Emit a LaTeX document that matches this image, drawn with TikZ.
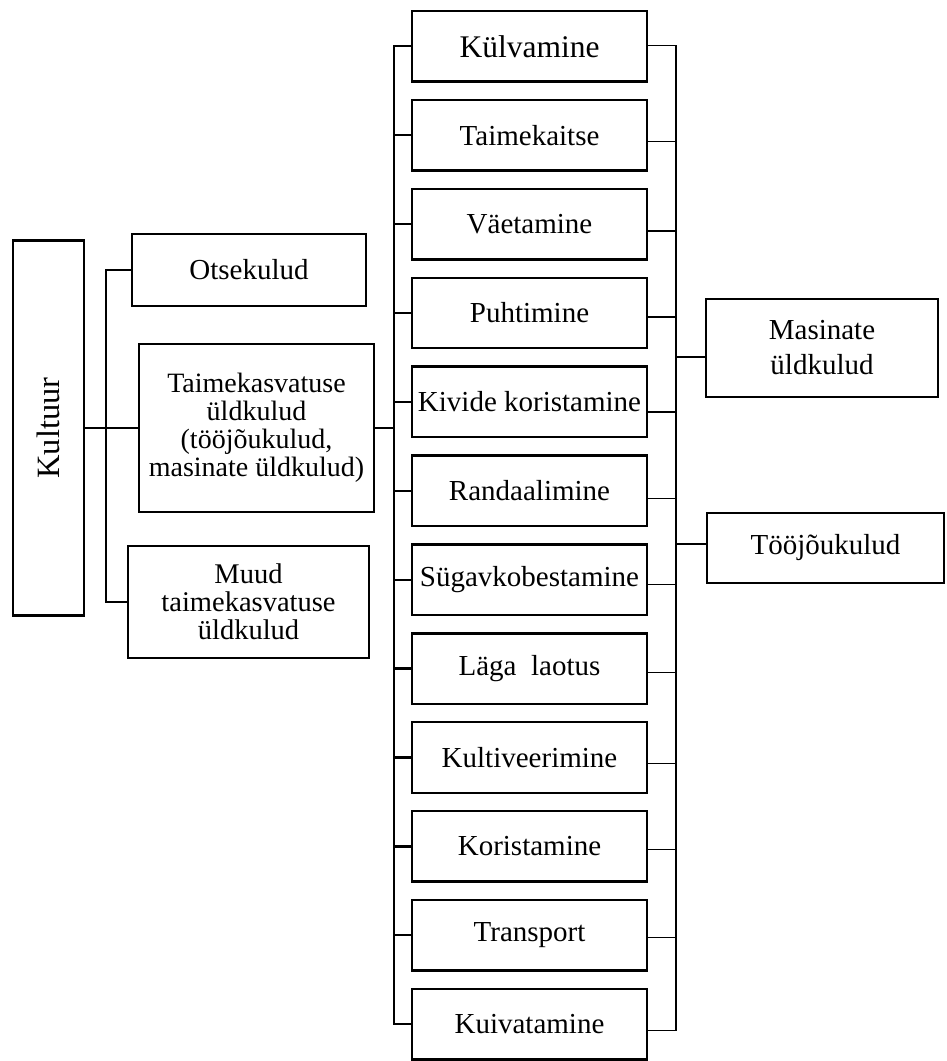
\documentclass[tikz,border=0pt]{standalone}
\usepackage{fontspec}
\setmainfont{Liberation Serif}
\begin{document}
\begin{tikzpicture}[x=1pt,y=-1pt,
  box/.style={draw,line width=2.4pt,inner sep=0pt,align=center,font=\fontsize{29}{28}\selectfont},
  midbox/.style={box,minimum width=235pt,minimum height=70.5pt},
  thick conn/.style={line width=2.3pt},
  thin conn/.style={line width=1.3pt}]
\useasboundingbox (0,0) rectangle (946,1061);
% left part
\node[box,minimum width=71pt,minimum height=375pt,font=\fontsize{32.5}{32}\selectfont] (kult) at (48.5,428) {\rotatebox{90}{Kultuur}};
\node[box,minimum width=234pt,minimum height=72pt] (ots) at (249,270) {Otsekulud};
\node[box,minimum width=235pt,minimum height=168pt,font=\fontsize{28}{28}\selectfont] (taim) at (256.5,428) {Taimekasvatuse\\üldkulud\\(tööjõukulud,\\masinate üldkulud)};
\node[box,minimum width=241pt,minimum height=112pt,font=\fontsize{28.5}{28}\selectfont] (muud) at (248.5,602) {Muud\\taimekasvatuse\\üldkulud};
% middle column
\foreach \i/\t in {1/{\fontsize{31.5}{30}\selectfont Külvamine},2/Taimekaitse,3/Väetamine,4/Puhtimine,5/Kivide koristamine,6/Randaalimine,7/Sügavkobestamine,8/Läga\ \ laotus,9/Kultiveerimine,10/Koristamine,11/Transport,12/Kuivatamine}
  \node[midbox] (m\i) at (529.5,{46.3+88.9*(\i-1)}) {\t};
% right column
\node[box,minimum width=232pt,minimum height=98pt,font=\fontsize{29}{35}\selectfont] (masin) at (822,348) {Masinate\\üldkulud};
\node[box,minimum width=237pt,minimum height=70pt] (tooj) at (825.5,548) {Tööjõukulud};
% bus coordinates
\coordinate (mbus) at (394,0);
\coordinate (rbus) at (676,0);
% left connectors
\draw[thick conn] (ots.west) -- ++(-25,0) |- (muud.west);
\draw[thick conn] (kult.east) -- (taim.west);
\draw[thick conn] (taim.east) -- (taim.east -| mbus);
% middle-left bus
\draw[thick conn] (m1.west) -- (m1.west -| mbus) -- (m12.west -| mbus) -- (m12.west);
\foreach \i in {2,...,11}
  \draw[thick conn] (m\i.west) -- (m\i.west -| mbus);
% right bus
\draw[thin conn] ([yshift=1pt]m1.east) -- ([yshift=1pt]m1.east -| rbus) -- ([yshift=-6pt]m12.east -| rbus) -- ([yshift=-6pt]m12.east);
\foreach \i/\d in {2/6,3/7,4/4,5/10,6/8,7/5,8/4,9/6,10/3,11/2}
  \draw[thin conn] ([yshift=-\d pt]m\i.east) -- ([yshift=-\d pt]m\i.east -| rbus);
\draw[thin conn] ([yshift=-9pt]masin.west) -- ([yshift=-9pt]masin.west -| rbus);
\draw[thin conn] ([yshift=4pt]tooj.west) -- ([yshift=4pt]tooj.west -| rbus);
\end{tikzpicture}
\end{document}
